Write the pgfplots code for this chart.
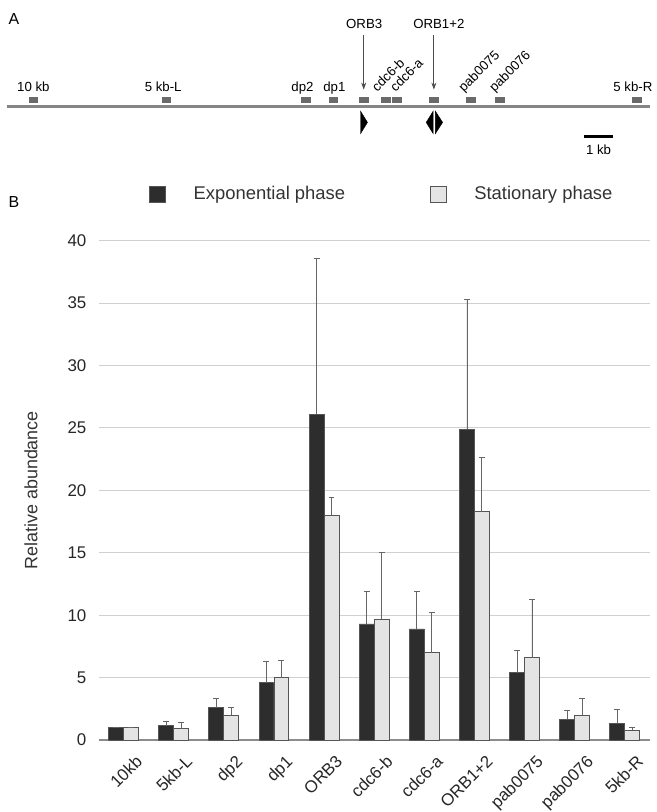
\documentclass[border=0pt]{standalone}
\usepackage{fontspec}
\setmainfont{Liberation Sans}
\usepackage{pgfplots}
\usepackage{pgfplotstable}
\pgfplotsset{compat=1.18}
\usetikzlibrary{arrows.meta}

\definecolor{expo}{HTML}{2D2D2D}
\definecolor{stat}{HTML}{E4E4E4}
\definecolor{barline}{HTML}{555555}
\definecolor{errgray}{HTML}{666666}
\definecolor{gridgray}{HTML}{D0D0D0}
\definecolor{axisgray}{HTML}{8C8C8C}
\definecolor{linegray}{HTML}{858585}
\definecolor{boxgray}{HTML}{6A6A6A}
\definecolor{txtgray}{HTML}{333333}

\newcommand\mapfont{\fontsize{13.3}{15}\selectfont}

% relative abundance, upper error
\pgfplotstableread{
x y err
0 1.00 0.05
1 1.15 0.35
2 2.60 0.70
3 4.60 1.70
4 26.10 12.50
5 9.30 2.60
6 8.90 3.00
7 24.90 10.40
8 5.40 1.80
9 1.67 0.67
10 1.35 1.12
}\expodata
\pgfplotstableread{
x y err
0 1.00 0.03
1 0.90 0.50
2 2.00 0.60
3 5.00 1.40
4 18.00 1.40
5 9.70 5.30
6 7.00 3.20
7 18.30 4.30
8 6.60 4.70
9 2.00 1.35
10 0.80 0.25
}\statdata

\begin{document}
\begin{tikzpicture}
% panel A, drawn in pixel units of the page
\begin{axis}[at={(0,0)}, anchor=south west, scale only axis,
  width=660pt, height=812pt, xmin=0, xmax=660, ymin=0, ymax=812,
  y dir=reverse, hide axis, clip=false]
\addplot[draw=none] coordinates {(0,0) (660,812)};
\addplot[linegray, line width=3.4pt] coordinates {(7,107) (653,107)};
\addplot[only marks, mark=square*, mark size=2.8pt,
  mark options={xscale=1.55, fill=boxgray, draw=boxgray}] coordinates {
  (33.5,100) (167,100) (307,100) (335,100) (365.5,100) (387.5,100)
  (398.5,100) (436,100) (473,100) (502,100) (640,100)};
% origin arrows
\addplot[black!70, line width=0.8pt, -{Stealth[length=7pt,width=5pt]}] coordinates {(365.5,35) (365.5,90)};
\addplot[black!70, line width=0.8pt, -{Stealth[length=7pt,width=5pt]}] coordinates {(436,35) (436,90)};
% orientation triangles
\addplot[fill=black, draw=black] coordinates {(362.3,111.7) (369.3,123) (362.3,134.3)} -- cycle;
\addplot[fill=black, draw=black] coordinates {(435.3,111.7) (428.3,123) (435.3,134.3)} -- cycle;
\addplot[fill=black, draw=black] coordinates {(437.5,111.7) (444.8,123) (437.5,134.3)} -- cycle;
% scale bar
\addplot[black, line width=3pt] coordinates {(587,137) (616,137)};
\node[font=\mapfont, anchor=base] at (axis cs:601.5,155) {1 kb};
\node[font=\mapfont, anchor=base] at (axis cs:33.5,92) {10 kb};
\node[font=\mapfont, anchor=base] at (axis cs:164,92) {5 kb-L};
\node[font=\mapfont, anchor=base] at (axis cs:304,92) {dp2};
\node[font=\mapfont, anchor=base] at (axis cs:336,92) {dp1};
\node[font=\mapfont, anchor=base] at (axis cs:636,92) {5 kb-R};
\node[font=\mapfont, anchor=base] at (axis cs:366,28.5) {ORB3};
\node[font=\mapfont, anchor=base] at (axis cs:441,28.5) {ORB1+2};
\node[font=\mapfont, anchor=base west, rotate=45, inner sep=0pt] at (axis cs:379,93) {cdc6-b};
\node[font=\mapfont, anchor=base west, rotate=45, inner sep=0pt] at (axis cs:397.5,93) {cdc6-a};
\node[font=\mapfont, anchor=base west, rotate=45, inner sep=0pt] at (axis cs:466,93) {pab0075};
\node[font=\mapfont, anchor=base west, rotate=45, inner sep=0pt] at (axis cs:497,93) {pab0076};
\node[font=\fontsize{16}{18}\selectfont] at (axis cs:14,19) {A};
\node[font=\fontsize{16}{18}\selectfont] at (axis cs:14,203) {B};
\end{axis}

% panel B
\begin{axis}[at={(99pt,68.3pt)}, anchor=south west, scale only axis,
  width=554pt, height=502pt,
  ybar=0pt, bar width=15pt,
  xmin=-0.5, xmax=10.5, ymin=0, ymax=40,
  ytick={0,5,...,40}, xtick={0,...,10},
  xticklabels={10kb,5kb-L,dp2,dp1,ORB3,cdc6-b,cdc6-a,ORB1+2,pab0075,pab0076,5kb-R},
  axis x line*=bottom, axis y line*=left,
  x axis line style={axisgray, line width=2pt},
  y axis line style={draw=none},
  major tick length=0pt,
  ymajorgrids, grid style={gridgray, line width=0.9pt},
  /pgf/number format/assume math mode=true,
  tick label style={font=\fontsize{17}{19}\selectfont, text=black!85},
  yticklabel style={anchor=east, inner sep=0pt, xshift=-12pt},
  xticklabel style={anchor=north east, inner sep=0pt, xshift=11pt, yshift=-14pt, rotate=45},
  ylabel={Relative abundance},
  ylabel style={font=\fontsize{18}{20}\selectfont, text=txtgray,
    at={(axis description cs:-0.1227,0.5)}, anchor=center},
  legend columns=2,
  legend image code/.code={\draw[#1, line width=0.8pt] (0pt,-8pt) rectangle (16pt,8pt);},
  legend style={at={(0.512,1.093)}, anchor=center, draw=none, fill=none,
    font=\fontsize{18.5}{20}\selectfont, text=txtgray,
    nodes={inner sep=0pt},
    /tikz/every odd column/.append style={column sep=28pt},
    /tikz/every even column/.append style={column sep=85pt}},
  error bars/y dir=plus, error bars/y explicit,
  error bars/error bar style={errgray, line width=0.8pt},
  error bars/error mark options={rotate=90, errgray, mark size=3pt, line width=0.8pt},
]
\addplot[fill=expo, draw=barline, line width=0.8pt] table[x=x, y=y, y error=err] {\expodata};
\addplot[fill=stat, draw=barline, line width=0.8pt] table[x=x, y=y, y error=err] {\statdata};
\legend{Exponential phase, Stationary phase}
\end{axis}
\end{tikzpicture}
\end{document}
